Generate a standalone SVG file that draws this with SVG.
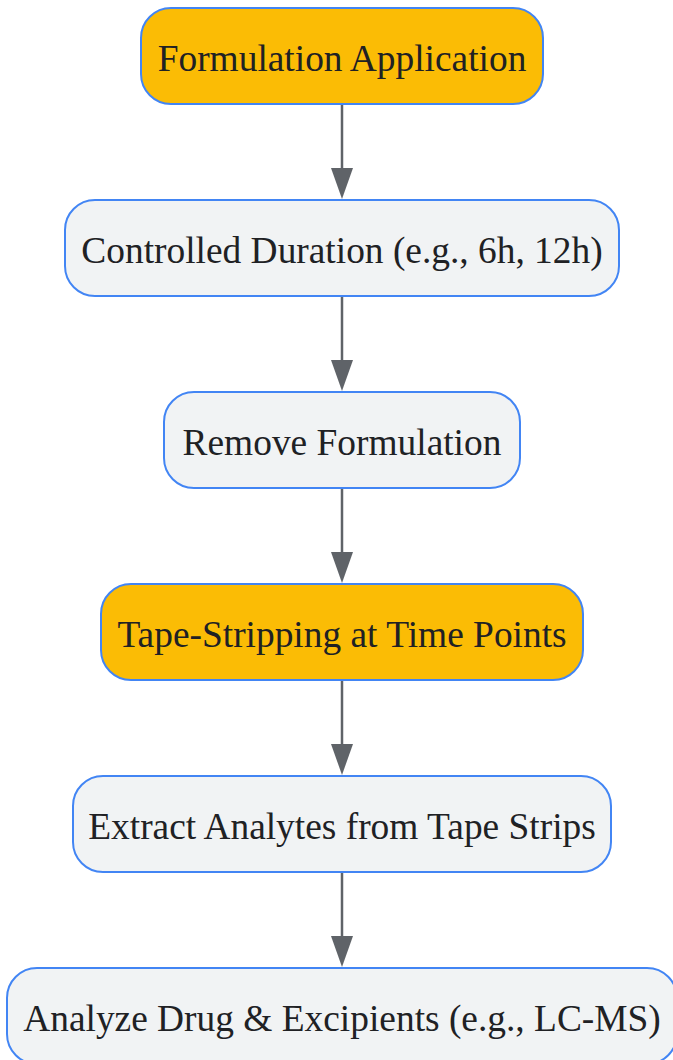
<svg xmlns="http://www.w3.org/2000/svg" width="673" height="1060" viewBox="0 0 673 1060">
<style>
.n rect{stroke:#4285F4;stroke-width:2}
.o rect{fill:#FBBC05}
.g rect{fill:#F1F3F4}
.n text{font-family:"Liberation Serif",serif;font-size:37.4px;fill:#202124;text-anchor:middle}
.e line{stroke:#5F6368;stroke-width:2.5}
.e polygon{fill:#5F6368}
</style>
<g id="connectors" class="e">
<line x1="342" y1="104" x2="342" y2="170"/>
<polygon points="331,168 353,168 342,199"/>
<line x1="342" y1="296" x2="342" y2="362"/>
<polygon points="331,360 353,360 342,391"/>
<line x1="342" y1="488" x2="342" y2="554"/>
<polygon points="331,552 353,552 342,583"/>
<line x1="342" y1="680" x2="342" y2="746"/>
<polygon points="331,744 353,744 342,775"/>
<line x1="342" y1="872" x2="342" y2="938"/>
<polygon points="331,936 353,936 342,967"/>
</g>
<g id="n1" class="n o"><rect x="141" y="8" width="402" height="96" rx="30"/><text x="342" y="71">Formulation Application</text></g>
<g id="n2" class="n g"><rect x="65" y="200" width="554" height="96" rx="30"/><text x="342" y="263">Controlled Duration (e.g., 6h, 12h)</text></g>
<g id="n3" class="n g"><rect x="164" y="392" width="356" height="96" rx="30"/><text x="342" y="455">Remove Formulation</text></g>
<g id="n4" class="n o"><rect x="101" y="584" width="482" height="96" rx="30"/><text x="342" y="647">Tape-Stripping at Time Points</text></g>
<g id="n5" class="n g"><rect x="73" y="776" width="538" height="96" rx="30"/><text x="342" y="839">Extract Analytes from Tape Strips</text></g>
<g id="n6" class="n g"><rect x="7" y="968" width="670" height="96" rx="30"/><text x="342" y="1031">Analyze Drug &amp; Excipients (e.g., LC-MS)</text></g>
</svg>
